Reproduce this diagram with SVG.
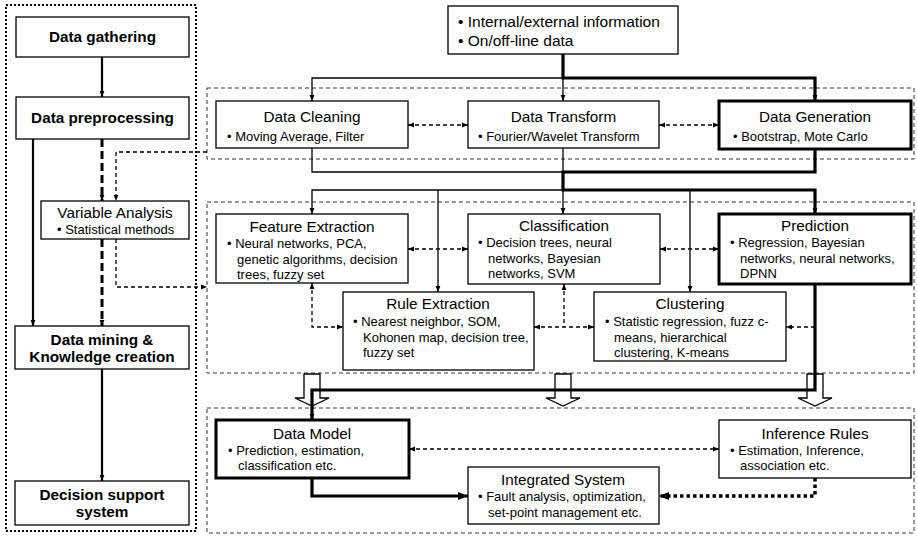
<svg xmlns="http://www.w3.org/2000/svg" width="917" height="536" viewBox="0 0 917 536">
<style>
.box{fill:#fff;stroke:#000;stroke-width:1.3}
.tb{fill:#fff;stroke:#000;stroke-width:3}
.grp{fill:none;stroke:#333;stroke-width:1;stroke-dasharray:4 3}
.pan{fill:none;stroke:#000;stroke-width:2;stroke-dasharray:2 2}
.t{font-family:"Liberation Sans",Arial,sans-serif;font-size:15.3px;text-anchor:middle;fill:#000}
.tl{font-family:"Liberation Sans",Arial,sans-serif;font-size:15.3px;font-weight:bold;text-anchor:middle;fill:#000}
.i{font-family:"Liberation Sans",Arial,sans-serif;font-size:15.5px;fill:#000}
.b{font-family:"Liberation Sans",Arial,sans-serif;font-size:13px;fill:#000}
.thin{fill:none;stroke:#000;stroke-width:1.3}
.thick{fill:none;stroke:#000;stroke-width:3.2}
.med{fill:none;stroke:#000;stroke-width:2.2}
.dash{fill:none;stroke:#000;stroke-width:1.3;stroke-dasharray:4 3}
.tdash{fill:none;stroke:#000;stroke-width:3;stroke-dasharray:8 4}
.dot{fill:none;stroke:#000;stroke-width:3.5;stroke-dasharray:3.5 3}
.hol{fill:#fff;stroke:#000;stroke-width:1.3}
</style>
<defs>
<marker id="a" viewBox="0 0 10 10" refX="10" refY="5" markerWidth="6" markerHeight="6" markerUnits="userSpaceOnUse" orient="auto-start-reverse"><path d="M0,1 L10,5 L0,9 z"/></marker>
<marker id="A" viewBox="0 0 10 10" refX="10" refY="5" markerWidth="10" markerHeight="10" markerUnits="userSpaceOnUse" orient="auto-start-reverse"><path d="M0,1 L10,5 L0,9 z"/></marker>
</defs>

<!-- left panel -->
<rect class="pan" x="6" y="5" width="190" height="526"/>
<rect class="grp" x="207" y="88" width="707" height="71"/>
<rect class="grp" x="207" y="202" width="707" height="171"/>
<rect class="grp" x="207" y="408" width="707" height="125"/>

<!-- hollow arrows -->
<g id="hollow">
<path class="hol" d="M304,374 H320 V398 H329 L312,406 L295,398 H304 Z"/>
<path class="hol" d="M555,374 H571 V398 H580 L563,406 L546,398 H555 Z"/>
<path class="hol" d="M807,374 H823 V398 H832 L815,406 L798,398 H807 Z"/>
</g>

<g id="connectors">
<path class="med" d="M102,57 V97" marker-end="url(#a)"/>
<path class="med" d="M33,139 V326" marker-end="url(#a)"/>
<path class="tdash" d="M102,139 V201" marker-end="url(#a)"/>
<path class="tdash" d="M102,239 V326" marker-end="url(#a)"/>
<path class="med" d="M102,369 V481" marker-end="url(#a)"/>
<path class="dash" d="M207,152 H116 V201" marker-end="url(#a)"/>
<path class="dash" d="M116,239 V287 H207" marker-end="url(#a)"/>

<path class="thick" d="M563,54 V78 H815 V101" marker-end="url(#a)"/>
<path class="thin" d="M563,78 H312 V101" marker-end="url(#a)"/>
<path class="thin" d="M563,78 V101" marker-end="url(#a)"/>
<path class="dash" d="M408,125 H468" marker-start="url(#a)" marker-end="url(#a)"/>
<path class="dash" d="M659,125 H719" marker-start="url(#a)" marker-end="url(#a)"/>
<path class="thin" d="M312,148 V172 H563"/>
<path class="thin" d="M563,148 V172"/>
<path class="thick" d="M815,149 V172 H563 V190 H815 V214" marker-end="url(#a)"/>
<path class="thin" d="M563,190 H312 V214" marker-end="url(#a)"/>
<path class="thin" d="M563,190 V214" marker-end="url(#a)"/>
<path class="thin" d="M438,190 V292" marker-end="url(#a)"/>
<path class="thin" d="M690,190 V292" marker-end="url(#a)"/>
<path class="dash" d="M408,249 H468" marker-start="url(#a)" marker-end="url(#a)"/>
<path class="dash" d="M660,249 H719" marker-start="url(#a)" marker-end="url(#a)"/>
<path class="dash" d="M312,283 V327 H343" marker-start="url(#a)" marker-end="url(#a)"/>
<path class="dash" d="M564,284 V327" marker-start="url(#a)"/>
<path class="dash" d="M534,327 H594" marker-start="url(#a)" marker-end="url(#a)"/>
<path class="dash" d="M815,327 H786" marker-end="url(#a)"/>
<path class="thick" d="M815,284 V390 H312 V420" marker-end="url(#a)"/>
<path class="dash" d="M409,449 H719" marker-start="url(#a)" marker-end="url(#a)"/>
<path class="thick" d="M312,478 V496 H468" marker-end="url(#A)"/>
<path class="dot" d="M815,478 V496 H659" marker-end="url(#A)"/>
</g>

<g id="data-gathering"><rect class="box" x="16" y="17" width="173" height="40"/><text class="tl" x="102.5" y="42">Data gathering</text></g>
<g id="data-preprocessing"><rect class="box" x="16" y="97" width="173" height="42"/><text class="tl" x="102.5" y="123">Data preprocessing</text></g>
<g id="variable-analysis"><rect class="box" x="41" y="201" width="148" height="38"/><text class="t" x="115" y="218">Variable Analysis</text><text class="b" x="57" y="233.5">• Statistical methods</text></g>
<g id="data-mining"><rect class="box" x="15" y="326" width="174" height="43"/><text class="tl" x="102" y="345">Data mining &amp;</text><text class="tl" x="102" y="362">Knowledge creation</text></g>
<g id="decision-support"><rect class="box" x="15" y="481" width="174" height="44"/><text class="tl" x="102" y="500">Decision support</text><text class="tl" x="102" y="517">system</text></g>

<g id="info"><rect class="box" x="448" y="6" width="230" height="48"/><text class="i" x="458" y="27">• Internal/external information</text><text class="i" x="458" y="46">• On/off-line data</text></g>

<g id="data-cleaning"><rect class="box" x="216" y="101" width="192" height="47"/><text class="t" x="312" y="122">Data Cleaning</text><text class="b" x="227" y="141">• Moving Average, Filter</text></g>
<g id="data-transform"><rect class="box" x="468" y="101" width="191" height="47"/><text class="t" x="563.5" y="122">Data Transform</text><text class="b" x="478" y="141">• Fourier/Wavelet Transform</text></g>
<g id="data-generation"><rect class="tb" x="719" y="101" width="192" height="48"/><text class="t" x="815" y="122">Data Generation</text><text class="b" x="733" y="141">• Bootstrap, Mote Carlo</text></g>

<g id="feature-extraction"><rect class="box" x="216" y="214" width="192" height="69"/><text class="t" x="312" y="232">Feature Extraction</text><text class="b" x="227" y="248">• Neural networks, PCA,</text><text class="b" x="237" y="263.5">genetic algorithms, decision</text><text class="b" x="237" y="279">trees, fuzzy set</text></g>
<g id="classification"><rect class="box" x="468" y="214" width="192" height="70"/><text class="t" x="564" y="231">Classification</text><text class="b" x="478" y="247">• Decision trees, neural</text><text class="b" x="488" y="263">networks, Bayesian</text><text class="b" x="488" y="278">networks, SVM</text></g>
<g id="prediction"><rect class="tb" x="719" y="214" width="192" height="70"/><text class="t" x="815" y="231">Prediction</text><text class="b" x="730" y="247">• Regression, Bayesian</text><text class="b" x="740" y="262.5">networks, neural networks,</text><text class="b" x="740" y="278">DPNN</text></g>
<g id="rule-extraction"><rect class="box" x="343" y="292" width="191" height="78"/><text class="t" x="438" y="309">Rule Extraction</text><text class="b" x="353" y="326">• Nearest neighbor, SOM,</text><text class="b" x="363" y="341.5">Kohonen map, decision tree,</text><text class="b" x="363" y="357">fuzzy set</text></g>
<g id="clustering"><rect class="box" x="594" y="292" width="192" height="69"/><text class="t" x="690" y="309">Clustering</text><text class="b" x="605" y="326">• Statistic regression, fuzz c-</text><text class="b" x="614" y="341.5">means, hierarchical</text><text class="b" x="614" y="357">clustering, K-means</text></g>

<g id="data-model"><rect class="tb" x="216" y="420" width="193" height="58"/><text class="t" x="312" y="439">Data Model</text><text class="b" x="228" y="455">• Prediction, estimation,</text><text class="b" x="238" y="470">classification etc.</text></g>
<g id="inference-rules"><rect class="box" x="719" y="420" width="192" height="58"/><text class="t" x="815" y="439">Inference Rules</text><text class="b" x="730" y="455">• Estimation, Inference,</text><text class="b" x="740" y="470">association etc.</text></g>
<g id="integrated-system"><rect class="box" x="468" y="467" width="191" height="57"/><text class="t" x="563" y="485">Integrated System</text><text class="b" x="478" y="501">• Fault analysis, optimization,</text><text class="b" x="488" y="516.5">set-point management etc.</text></g>
</svg>
